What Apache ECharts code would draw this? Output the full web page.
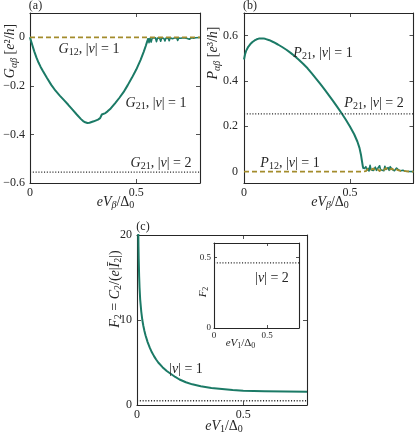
<!DOCTYPE html>
<html><head><meta charset="utf-8">
<script src="https://cdn.jsdelivr.net/npm/echarts@6/dist/echarts.min.js"></script>
<style>html,body{margin:0;padding:0;background:#fff}#c{width:415px;height:434px}</style>
</head><body><div id="c"></div>
<script>
// ---------- data ----------
// panel (a): G21, |nu|=1 (smooth part, then noisy tail)
const aG21X = [0, 0.005, 0.01, 0.02, 0.03, 0.04, 0.05, 0.06, 0.08, 0.1, 0.12, 0.14, 0.16, 0.18, 0.2, 0.22, 0.24, 0.25, 0.26, 0.27, 0.28, 0.29, 0.3, 0.32, 0.33, 0.338, 0.345, 0.355, 0.365, 0.38, 0.4, 0.42, 0.44, 0.46, 0.48, 0.5, 0.52, 0.535, 0.545, 0.552, 0.557];
const aG21Y = [0, -0.016, -0.03, -0.058, -0.083, -0.104, -0.122, -0.138, -0.168, -0.196, -0.22, -0.24, -0.259, -0.278, -0.298, -0.318, -0.337, -0.345, -0.35, -0.353, -0.352, -0.349, -0.346, -0.339, -0.333, -0.318, -0.313, -0.312, -0.305, -0.293, -0.272, -0.25, -0.226, -0.197, -0.166, -0.133, -0.094, -0.06, -0.035, -0.016, -0.004];
const aG21TailX = [0.557, 0.56, 0.565, 0.57, 0.575, 0.58, 0.59, 0.595, 0.6, 0.61, 0.615, 0.62, 0.63, 0.635, 0.64, 0.65, 0.655, 0.66, 0.67, 0.675, 0.68, 0.69, 0.695, 0.7, 0.71, 0.715, 0.72, 0.73, 0.74, 0.75, 0.76, 0.77, 0.78, 0.8];
const aG21TailY = [-0.004, -0.022, -0.004, -0.02, -0.003, -0.006, -0.002, -0.018, -0.003, -0.004, -0.016, -0.002, -0.005, -0.015, -0.003, -0.004, -0.014, -0.002, -0.006, -0.012, -0.003, -0.002, -0.013, -0.003, -0.004, -0.01, -0.002, -0.003, -0.005, -0.008, -0.002, -0.004, -0.002, -0.001];
// panel (a): G12, |nu|=1 and G21, |nu|=2
const aG12X = [0, 0.8];
const aG12Y = [0, 0];
const aG21n2X = [0, 0.8];
const aG21n2Y = [-0.555, -0.555];

// panel (b): P21, |nu|=1 (smooth part, then noisy tail)
const bP21X = [0, 0.005, 0.01, 0.02, 0.03, 0.04, 0.05, 0.06, 0.07, 0.08, 0.09, 0.1, 0.12, 0.14, 0.16, 0.18, 0.2, 0.22, 0.24, 0.26, 0.28, 0.3, 0.32, 0.34, 0.36, 0.38, 0.4, 0.42, 0.44, 0.46, 0.48, 0.5, 0.52, 0.535, 0.545, 0.552, 0.557, 0.561, 0.565];
const bP21Y = [0.495, 0.518, 0.533, 0.551, 0.563, 0.572, 0.579, 0.584, 0.587, 0.588, 0.588, 0.586, 0.58, 0.571, 0.561, 0.55, 0.538, 0.524, 0.509, 0.493, 0.475, 0.456, 0.434, 0.411, 0.387, 0.363, 0.338, 0.312, 0.286, 0.259, 0.23, 0.199, 0.165, 0.133, 0.105, 0.075, 0.045, 0.022, 0.012];
const bP21TailX = [0.565, 0.57, 0.575, 0.58, 0.585, 0.59, 0.595, 0.6, 0.605, 0.61, 0.62, 0.625, 0.63, 0.64, 0.645, 0.65, 0.66, 0.665, 0.67, 0.68, 0.685, 0.69, 0.7, 0.705, 0.71, 0.72, 0.73, 0.735, 0.74, 0.75, 0.76, 0.78, 0.8];
const bP21TailY = [0.012, 0.004, 0.022, 0.006, 0.015, 0.003, 0.028, 0.008, 0.012, 0.005, 0.02, 0.006, 0.014, 0.026, 0.008, 0.012, 0.004, 0.024, 0.01, 0.018, 0.006, 0.022, 0.009, 0.015, 0.004, 0.016, 0.007, 0.012, 0.004, 0.006, 0.002, 0.001, 0];
// panel (b): P12, |nu|=1
const bP12X = [0, 0.56, 0.565, 0.575, 0.585, 0.59, 0.6, 0.61, 0.62, 0.63, 0.64, 0.65, 0.66, 0.67, 0.68, 0.69, 0.7, 0.71, 0.72, 0.73, 0.74, 0.75, 0.77, 0.8];
const bP12Y = [0, 0, 0.006, 0.002, 0.012, 0.004, 0.008, 0.014, 0.005, 0.01, 0.003, 0.012, 0.007, 0.016, 0.005, 0.01, 0.013, 0.004, 0.009, 0.006, 0.003, 0.004, 0.001, 0];
// panel (b): P21, |nu|=2
const bP21n2X = [0, 0.8];
const bP21n2Y = [0.255, 0.255];

// panel (c): F2, |nu|=1
const cF1X = [0.005, 0.006, 0.007, 0.008, 0.01, 0.012, 0.015, 0.02, 0.025, 0.03, 0.035, 0.04, 0.05, 0.06, 0.07, 0.08, 0.09, 0.1, 0.12, 0.14, 0.16, 0.18, 0.2, 0.23, 0.26, 0.3, 0.35, 0.4, 0.45, 0.5, 0.55, 0.6, 0.7, 0.8];
const cF1Y = [24, 20.5, 18.6, 17.2, 15.2, 13.8, 12.4, 11.0, 10.0, 9.3, 8.7, 8.2, 7.4, 6.75, 6.2, 5.75, 5.35, 5.0, 4.45, 4.0, 3.65, 3.3, 3.0, 2.68, 2.43, 2.2, 2.0, 1.88, 1.77, 1.69, 1.65, 1.62, 1.58, 1.57];
// panel (c): F2, |nu|=2
const cF2X = [0, 0.8];
const cF2Y = [0.5, 0.5];
// inset: F2, |nu|=2
const insX = [0, 0.8];
const insY = [0.46, 0.46];

// tick values
const bYTicks = [0, 0.2, 0.4, 0.6];
const insYTicks = [0, 0.5];

// ---------- styling ----------
const FONT = 'Liberation Serif';
const INK = '#262626';
const GREEN = '#1b7a66';
const OLIVE = '#a38c2c';
const DOT = '#2a2a2a';
const DOTTED = [1.1, 1.7];

const pairs = (xs, ys) => xs.map((x, i) => [x, ys[i]]);
const fmt = v => {
  const r = Math.round(v * 10) / 10;
  if (r === 0) return '0';
  return (r < 0 ? '\u2212' : '') + Math.abs(r).toString();
};

function xAx(g, top, fs, margin, tickLen, opt) {
  return Object.assign({
    gridIndex: g, type: 'value', position: top ? 'top' : 'bottom',
    min: 0, max: 0.8, interval: 0.5,
    axisLine: { show: true, onZero: false, lineStyle: { color: INK, width: 1.1 } },
    axisTick: { show: true, inside: true, length: tickLen, lineStyle: { color: INK, width: 0.8 } },
    axisLabel: { show: !top, showMaxLabel: false, fontFamily: FONT, fontSize: fs, color: INK, margin: margin, formatter: fmt },
    splitLine: { show: false }
  }, opt || {});
}
function yAx(g, right, min, max, interval, fs, margin, tickLen, opt) {
  return Object.assign({
    gridIndex: g, type: 'value', position: right ? 'right' : 'left',
    min: min, max: max, interval: interval,
    axisLine: { show: true, onZero: false, lineStyle: { color: INK, width: 1.1 } },
    axisTick: { show: true, inside: true, length: tickLen, lineStyle: { color: INK, width: 0.8 } },
    axisLabel: { show: !right, showMaxLabel: false, fontFamily: FONT, fontSize: fs, color: INK, margin: margin, formatter: fmt },
    splitLine: { show: false }
  }, opt || {});
}

function RICH(fs, sfs) {
  const base = { fontFamily: FONT, fill: INK, color: INK };
  return {
    r: Object.assign({ fontSize: fs, lineHeight: fs + 3 }, base),
    i: Object.assign({ fontSize: fs, lineHeight: fs + 3, fontStyle: 'italic' }, base),
    s: Object.assign({ fontSize: sfs, lineHeight: Math.round(sfs * 0.8), verticalAlign: 'bottom' }, base),
    si: Object.assign({ fontSize: sfs, lineHeight: Math.round(sfs * 0.8), verticalAlign: 'bottom', fontStyle: 'italic' }, base)
  };
}
const R = parts => parts.map(p => '{' + p[0] + '|' + p[1] + '}').join('');
function T(x, y, parts, fs, sfs, rot) {
  return {
    type: 'text', x: x, y: y, rotation: rot || 0, z: 100,
    style: { text: R(parts), rich: RICH(fs, sfs), align: 'center', verticalAlign: 'middle', fontFamily: FONT, fontSize: fs, fill: INK }
  };
}
const nuEq = n => [['r', ', |'], ['i', 'ν'], ['r', '| = ' + n]];

const graphics = [
  T(35.5, 6, [['r', '(a)']], 12, 9),
  T(250, 6, [['r', '(b)']], 12, 9),
  T(143, 227, [['r', '(c)']], 12, 9),
  // panel a labels
  T(89, 49, [['i', 'G'], ['s', '12']].concat(nuEq(1)), 14, 10),
  T(156, 103, [['i', 'G'], ['s', '21']].concat(nuEq(1)), 14, 10),
  T(161, 163, [['i', 'G'], ['s', '21']].concat(nuEq(2)), 14, 10),
  // panel b labels
  T(323, 53, [['i', 'P'], ['s', '21']].concat(nuEq(1)), 14, 10),
  T(374, 103, [['i', 'P'], ['s', '21']].concat(nuEq(2)), 14, 10),
  T(290, 163, [['i', 'P'], ['s', '12']].concat(nuEq(1)), 14, 10),
  // panel c labels
  T(186, 369, [['r', '|'], ['i', 'ν'], ['r', '| = 1']], 14, 10),
  T(272, 278, [['r', '|'], ['i', 'ν'], ['r', '| = 2']], 14, 10),
  // axis titles
  T(115.5, 202, [['i', 'eV'], ['si', 'β'], ['r', '/Δ'], ['s', '0']], 14, 10),
  T(330, 202, [['i', 'eV'], ['si', 'β'], ['r', '/Δ'], ['s', '0']], 14, 10),
  T(224, 426, [['i', 'eV'], ['s', '1'], ['r', '/Δ'], ['s', '0']], 14, 10),
  T(240.5, 343, [['i', 'eV'], ['s', '1'], ['r', '/Δ'], ['s', '0']], 11, 8),
  T(10.5, 51, [['i', 'G'], ['si', 'αβ'], ['r', ' ['], ['i', 'e'], ['r', '²/'], ['i', 'h'], ['r', ']']], 14, 10, Math.PI / 2),
  T(213.5, 53, [['i', 'P'], ['si', 'αβ'], ['r', ' ['], ['i', 'e'], ['r', '³/'], ['i', 'h'], ['r', ']']], 14, 10, Math.PI / 2),
  T(115, 289, [['i', 'F'], ['s', '2'], ['r', ' = '], ['i', 'C'], ['s', '2'], ['r', '/('], ['i', 'e'], ['r', '|'], ['i', 'Ī'], ['s', '2'], ['r', '|)']], 14, 10, Math.PI / 2),
  T(203, 292, [['i', 'F'], ['s', '2']], 11, 8, Math.PI / 2)
];

const line = (xi, yi, data, color, width, type, z) => ({
  type: 'line', xAxisIndex: xi, yAxisIndex: yi, data: data, showSymbol: false, symbol: 'none',
  lineStyle: { color: color, width: width, type: type, join: 'round' }, z: z || 2, animation: false, silent: true, clip: true
});

const option = {
  animation: false,
  backgroundColor: '#fff',
  grid: [
    { left: 30, top: 13, width: 170, height: 170 },
    { left: 244, top: 13, width: 169.5, height: 170 },
    { left: 137, top: 235, width: 170, height: 170 },
    { left: 214, top: 243, width: 85, height: 85, backgroundColor: '#fff', show: true, borderWidth: 0, z: 5 }
  ],
  xAxis: [
    xAx(0, false, 12, 4, 4), xAx(0, true, 12, 4, 4),
    xAx(1, false, 12, 4, 4), xAx(1, true, 12, 4, 4),
    xAx(2, false, 12, 4, 4), xAx(2, true, 12, 4, 4),
    xAx(3, false, 9, 3, 3, { z: 6 }), xAx(3, true, 9, 3, 3, { z: 6 })
  ],
  yAxis: [
    yAx(0, false, -0.6, 0.1, 0.2, 12, 5, 4), yAx(0, true, -0.6, 0.1, 0.2, 12, 5, 4),
    yAx(1, false, -0.05, 0.7, null, 12, 6, 4, { axisTick: { show: true, inside: true, length: 4, customValues: bYTicks, lineStyle: { color: INK, width: 0.8 } }, axisLabel: { show: true, customValues: bYTicks, fontFamily: FONT, fontSize: 12, color: INK, margin: 6, formatter: fmt } }),
    yAx(1, true, -0.05, 0.7, null, 12, 6, 4, { axisTick: { show: true, inside: true, length: 4, customValues: bYTicks, lineStyle: { color: INK, width: 0.8 } } }),
    yAx(2, false, 0, 20, 10, 12, 5, 4, { axisLabel: { show: true, showMaxLabel: true, fontFamily: FONT, fontSize: 12, color: INK, margin: 5 } }),
    yAx(2, true, 0, 20, 10, 12, 5, 4),
    yAx(3, false, 0, 0.6, null, 9, 3, 3, { z: 6, axisTick: { show: true, inside: true, length: 3, customValues: insYTicks, lineStyle: { color: INK, width: 0.8 } }, axisLabel: { show: true, customValues: insYTicks, fontFamily: FONT, fontSize: 9, color: INK, margin: 3, formatter: fmt } }),
    yAx(3, true, 0, 0.6, null, 9, 3, 3, { z: 6, axisTick: { show: true, inside: true, length: 3, customValues: insYTicks, lineStyle: { color: INK, width: 0.8 } } })
  ],
  series: [
    line(0, 0, pairs(aG21X, aG21Y), GREEN, 2, 'solid', 2),
    line(0, 0, pairs(aG21TailX, aG21TailY), GREEN, 1.6, 'solid', 2),
    line(0, 0, pairs(aG12X, aG12Y), OLIVE, 1.8, [5, 3], 3),
    line(0, 0, pairs(aG21n2X, aG21n2Y), DOT, 1.3, DOTTED),
    line(2, 2, pairs(bP21X, bP21Y), GREEN, 2, 'solid', 2),
    line(2, 2, pairs(bP21TailX, bP21TailY), GREEN, 1.6, 'solid', 2),
    line(2, 2, pairs(bP12X, bP12Y), OLIVE, 1.8, [5, 3], 3),
    line(2, 2, pairs(bP21n2X, bP21n2Y), DOT, 1.3, DOTTED),
    line(4, 4, pairs(cF1X, cF1Y), GREEN, 2, 'solid', 2),
    line(4, 4, pairs(cF2X, cF2Y), DOT, 1.3, DOTTED),
    line(6, 6, pairs(insX, insY), DOT, 1.3, DOTTED, 7)
  ],
  graphic: graphics
};

const chart = echarts.init(document.getElementById('c'), null, { renderer: 'canvas' });
chart.setOption(option);
</script>
</body></html>
